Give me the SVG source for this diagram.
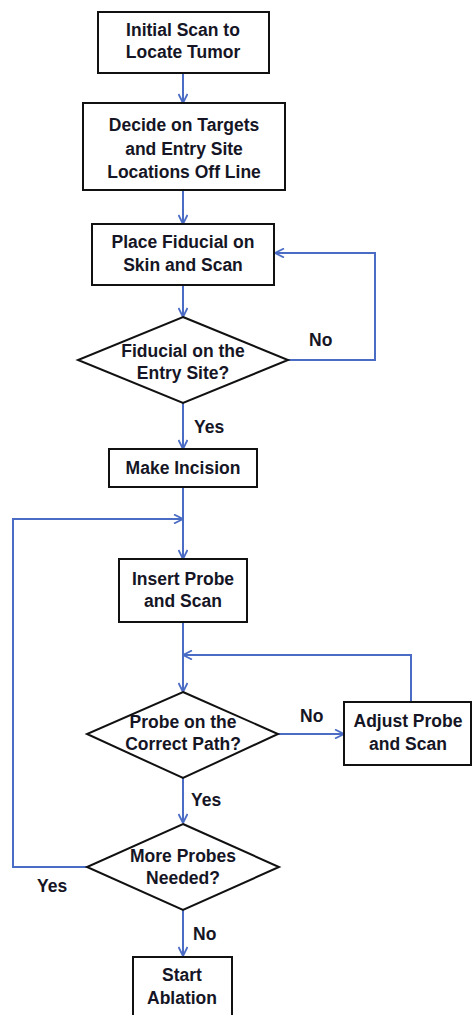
<svg xmlns="http://www.w3.org/2000/svg" width="472" height="1015" viewBox="0 0 472 1015">
<style>
.box{fill:#fff;stroke:#111;stroke-width:2}
.t{font-family:"Liberation Sans",Arial,sans-serif;font-weight:bold;font-size:17.5px;fill:#151525;text-anchor:middle}
.lbl{font-family:"Liberation Sans",Arial,sans-serif;font-weight:bold;font-size:17.5px;fill:#151525}
.c{fill:none;stroke:#4a6cc4;stroke-width:2;marker-end:url(#ah)}
</style>
<defs>
<marker id="ah" viewBox="0 0 10 10" refX="10" refY="5" markerWidth="10" markerHeight="10" markerUnits="userSpaceOnUse" orient="auto">
<path d="M1,0.5 L10,5 L1,9.5" fill="none" stroke="#4a6cc4" stroke-width="1.8"/>
</marker>
</defs>
<rect width="472" height="1015" fill="#fff"/>
<g id="connectors">
<path class="c" d="M183,73 V103"/>
<path class="c" d="M183,190 V224"/>
<path class="c" d="M183,285 V317"/>
<path class="c" d="M288,360 H375 V253 H275"/>
<path class="c" d="M183,403 V449"/>
<path class="c" d="M183,487 V559"/>
<path class="c" d="M87,867 H13 V519 H183"/>
<path class="c" d="M183,622 V692"/>
<path class="c" d="M411,702 V655 H183"/>
<path class="c" d="M278,734 H344"/>
<path class="c" d="M183,778 V823"/>
<path class="c" d="M183,910 V956"/>
<text class="lbl" x="309" y="346">No</text>
<text class="lbl" x="194" y="433">Yes</text>
<text class="lbl" x="300" y="722">No</text>
<text class="lbl" x="191" y="806">Yes</text>
<text class="lbl" x="37" y="892">Yes</text>
<text class="lbl" x="193" y="940">No</text>
</g>
<g id="n1"><rect class="box" x="98" y="12" width="171" height="61"/>
<text class="t" x="183" y="36">Initial Scan to</text><text class="t" x="183" y="58">Locate Tumor</text></g>
<g id="n2"><rect class="box" x="83" y="103" width="202" height="87"/>
<text class="t" x="184" y="131">Decide on Targets</text><text class="t" x="184" y="155">and Entry Site</text><text class="t" x="184" y="178">Locations Off Line</text></g>
<g id="n3"><rect class="box" x="92" y="224" width="182" height="61"/>
<text class="t" x="183" y="248">Place Fiducial on</text><text class="t" x="183" y="271">Skin and Scan</text></g>
<g id="n4"><polygon class="box" points="183,317 288,360 183,403 78,360"/>
<text class="t" x="183" y="357">Fiducial on the</text><text class="t" x="183" y="379">Entry Site?</text></g>
<g id="n5"><rect class="box" x="109" y="449" width="148" height="38"/>
<text class="t" x="183" y="474">Make Incision</text></g>
<g id="n6"><rect class="box" x="119" y="559" width="128" height="63"/>
<text class="t" x="183" y="585">Insert Probe</text><text class="t" x="183" y="607">and Scan</text></g>
<g id="n7"><polygon class="box" points="183,692 278,734 183,778 87,734"/>
<text class="t" x="183" y="728">Probe on the</text><text class="t" x="183" y="750">Correct Path?</text></g>
<g id="n8"><rect class="box" x="344" y="702" width="127" height="63"/>
<text class="t" x="408" y="727">Adjust Probe</text><text class="t" x="408" y="750">and Scan</text></g>
<g id="n9"><polygon class="box" points="183,824 279,867 183,910 87,867"/>
<text class="t" x="183" y="862">More Probes</text><text class="t" x="183" y="884">Needed?</text></g>
<g id="n10"><rect class="box" x="133" y="957" width="99" height="65"/>
<text class="t" x="182" y="981">Start</text><text class="t" x="182" y="1004">Ablation</text></g>
</svg>
